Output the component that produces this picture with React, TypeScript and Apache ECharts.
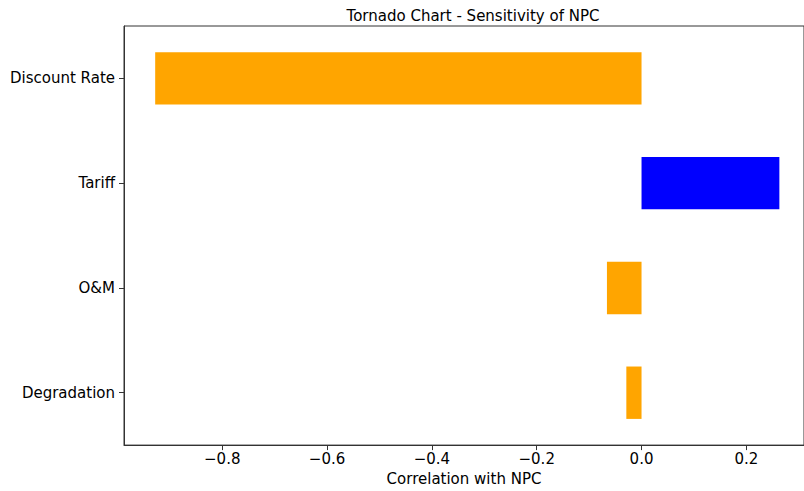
import React, { useEffect, useRef } from "react";
import * as echarts from "echarts";

const categories = ["Degradation", "O&M", "Tariff", "Discount Rate"];
const correlations = [-0.029, -0.066, 0.263, -0.928];
const xTicks = [-0.8, -0.6, -0.4, -0.2, 0, 0.2];

const FONT = "DejaVu Sans";

export default function App() {
  const ref = useRef<HTMLDivElement>(null);
  useEffect(() => {
    if (!ref.current) return;
    const chart = echarts.init(ref.current, null, { renderer: "svg" });
    const fmt = (v: number) => {
      const s = Math.abs(v).toFixed(1);
      return v < -1e-9 ? "\u2212" + s : s;
    };
    chart.setOption({
      animation: false,
      backgroundColor: "#ffffff",
      title: {
        text: "Tornado Chart - Sensitivity of NPC",
        left: 468,
        textAlign: "center",
        top: 3,
        textStyle: { fontFamily: FONT, fontSize: 15, fontWeight: "normal", color: "#000" },
      },
      grid: {
        left: 124,
        right: 0,
        top: 26,
        bottom: 44,
        show: true,
        borderColor: "#333",
        borderWidth: 1,
        containLabel: false,
      },
      xAxis: [
        {
          type: "value",
          min: -0.9875,
          max: 0.31,
          name: "Correlation with NPC",
          nameLocation: "middle",
          nameGap: 24,
          nameTextStyle: { fontFamily: FONT, fontSize: 15, color: "#000" },
          axisLine: { show: true, onZero: false, lineStyle: { color: "#333", width: 1 } },
          axisTick: { show: true, length: 5, lineStyle: { color: "#333" }, customValues: xTicks },
          axisLabel: {
            fontFamily: FONT,
            fontSize: 15,
            color: "#000",
            margin: 6,
            customValues: xTicks,
            formatter: (v: number) => fmt(v),
          },
          splitLine: { show: false },
        },
      ],
      yAxis: {
        type: "category",
        data: categories,
        axisLine: { show: true, onZero: false, lineStyle: { color: "#333", width: 1 } },
        axisTick: { show: true, length: 5, alignWithLabel: true, lineStyle: { color: "#333" } },
        axisLabel: { fontFamily: FONT, fontSize: 15, color: "#000", margin: 9 },
        splitLine: { show: false },
      },
      series: [
        {
          type: "bar",
          barWidth: "50%",
          data: correlations.map((v) => ({
            value: v,
            itemStyle: { color: v >= 0 ? "#0000FF" : "#FFA500" },
          })),
        },
      ],
    });
    return () => chart.dispose();
  }, []);
  return <div ref={ref} style={{ width: 804, height: 491, position: "absolute", left: 0, top: 0 }} />;
}
